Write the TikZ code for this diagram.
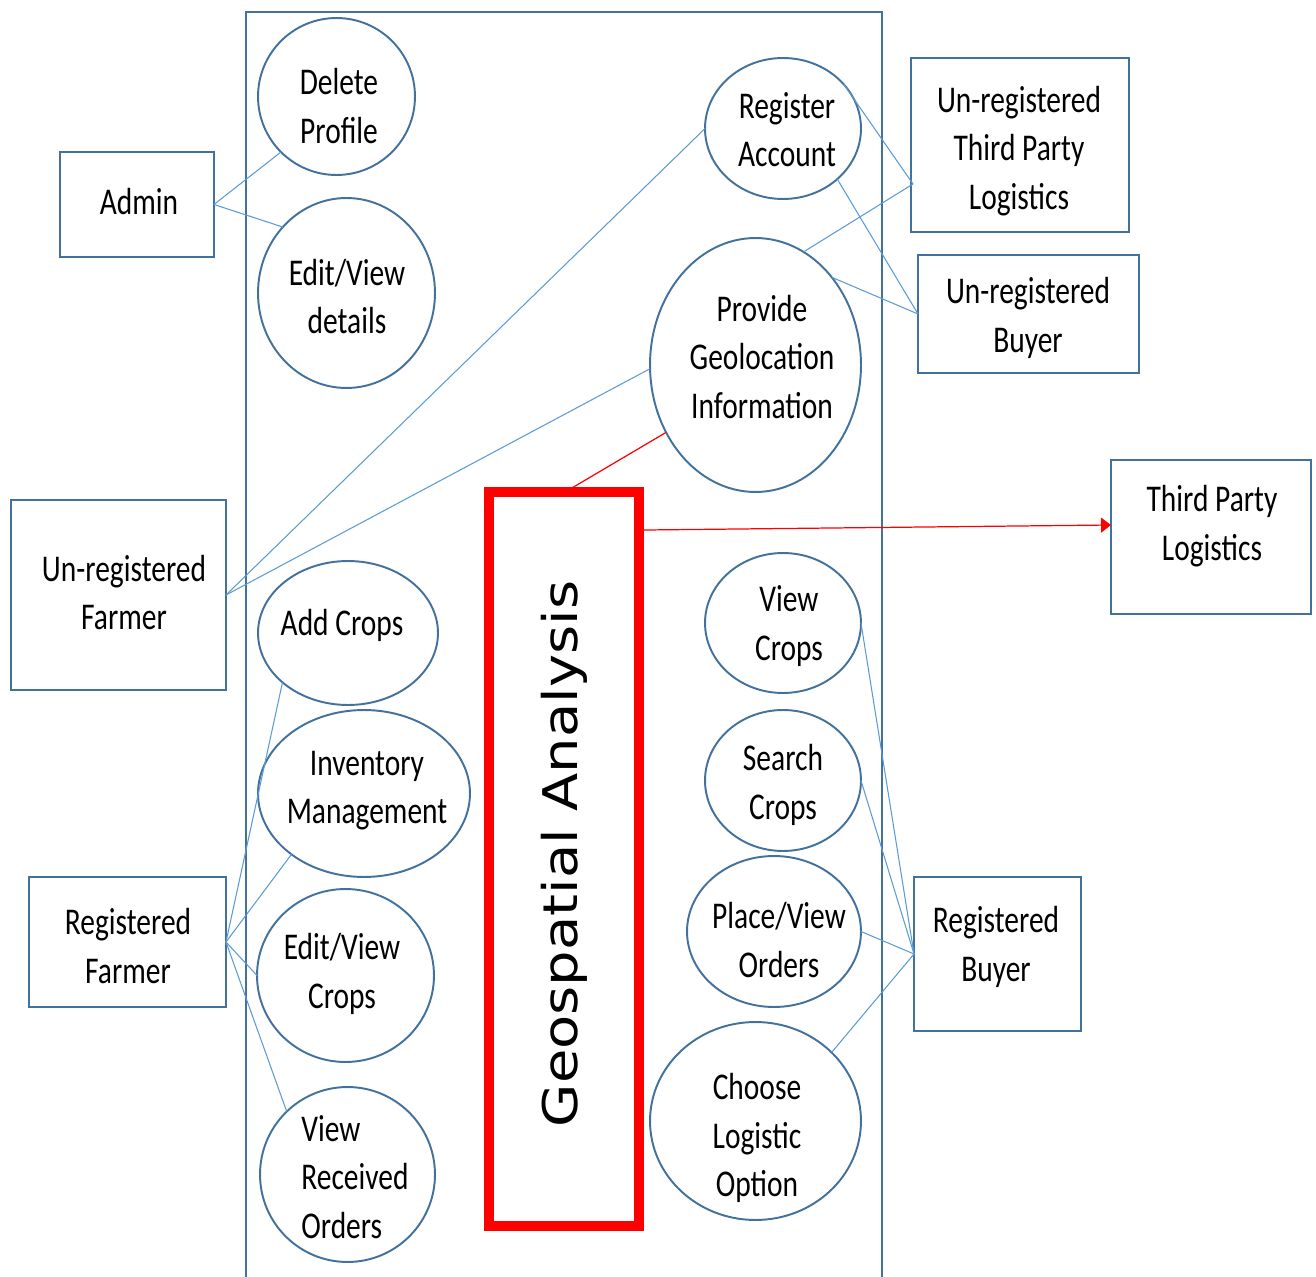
\documentclass[tikz,border=0pt]{standalone}
\usepackage{fontspec}
\usetikzlibrary{shapes.geometric,arrows.meta}
\newfontfamily\lblfont[FakeStretch=0.78]{Carlito}
\newfontfamily\geofont[FakeStretch=1.17]{DejaVu Sans}
\definecolor{edgeblue}{RGB}{65,113,156}
\definecolor{linkblue}{RGB}{91,155,213}
\definecolor{hotred}{RGB}{255,0,0}

\begin{document}
\begin{tikzpicture}[x=0.02cm,y=-0.02cm,
  usecase/.style={ellipse,draw=edgeblue,line width=1.1pt,fill=white,inner sep=0pt,outer sep=0pt},
  actor/.style={rectangle,draw=edgeblue,line width=1.1pt,fill=white,inner sep=0pt,outer sep=0pt},
  lbl/.style={font=\lblfont\fontsize{21.5}{27.5}\selectfont,align=center,inner sep=0pt,text=black},
  assoc/.style={draw=linkblue,line width=0.6pt},
  hotline/.style={draw=hotred,line width=0.7pt},
  frame/.style={draw=edgeblue,line width=1.1pt}]

\useasboundingbox (0,0) rectangle (1316,1277);

% system boundary (open at the bottom)
\draw[frame] (246,1277) |- (882,12) -- (882,1277);

% actors
\node[actor,minimum width=3.08cm,minimum height=2.10cm] (admin)     at (137,204.5) {};
\node[actor,minimum width=4.30cm,minimum height=3.80cm] (unfarmer)  at (118.5,595) {};
\node[actor,minimum width=3.94cm,minimum height=2.60cm] (regfarmer) at (127.5,942) {};
\node[actor,minimum width=4.36cm,minimum height=3.48cm] (untpl)     at (1020,145) {};
\node[actor,minimum width=4.42cm,minimum height=2.36cm] (unbuyer)   at (1028.5,314) {};
\node[actor,minimum width=4.00cm,minimum height=3.08cm] (tpl)       at (1211,537) {};
\node[actor,minimum width=3.34cm,minimum height=3.08cm] (regbuyer)  at (997.5,954) {};

% use cases
\node[usecase,minimum width=3.14cm,minimum height=3.14cm] (delprof)     at (336.5,96.5) {};
\node[usecase,minimum width=3.54cm,minimum height=3.80cm] (editdet)     at (346.5,293) {};
\node[usecase,minimum width=3.12cm,minimum height=2.82cm] (regacc)      at (783,128.5) {};
\node[usecase,minimum width=4.22cm,minimum height=5.08cm] (geoinfo)     at (755.5,365) {};
\node[usecase,minimum width=3.60cm,minimum height=2.88cm] (addcrops)    at (348,633) {};
\node[usecase,minimum width=4.24cm,minimum height=3.34cm] (invmgmt)     at (364,793.5) {};
\node[usecase,minimum width=3.54cm,minimum height=3.46cm] (editcrops)   at (345.5,975.5) {};
\node[usecase,minimum width=3.50cm,minimum height=3.50cm] (vieworders)  at (347.5,1174.5) {};
\node[usecase,minimum width=3.12cm,minimum height=2.80cm] (viewcrops)   at (783,623) {};
\node[usecase,minimum width=3.12cm,minimum height=2.82cm] (searchcrops) at (783,780.5) {};
\node[usecase,minimum width=3.48cm,minimum height=3.02cm] (placeorders) at (774,931.5) {};
\node[usecase,minimum width=4.22cm,minimum height=3.96cm] (chooselog)   at (755.5,1121) {};

% geospatial analysis block
\node[rectangle,draw=hotred,line width=5.6pt,inner sep=0pt,outer sep=0pt,
      minimum width=3.00cm,minimum height=14.68cm] (geo) at (564,859) {};
\node[font=\geofont\fontsize{27.2}{32}\selectfont,rotate=90,anchor=base,inner sep=0pt]
      (t-geo) at (577,854) {Geospatial Analysis};

% ports where several associations meet
\coordinate (untpl-port) at (913,184);
\coordinate (tpl-port)   at (1111,525);

% associations
\draw[assoc] (admin.east) -- (delprof.225);
\draw[assoc] (admin.east) -- (editdet.134);
\draw[assoc] (unfarmer.east) -- (regacc.180);
\draw[assoc] (unfarmer.east) -- (geoinfo.182);
\draw[assoc] (regacc.36) -- (untpl-port);
\draw[assoc] (geoinfo.67) -- (untpl-port);
\draw[assoc] (regacc.-43) -- (unbuyer.west);
\draw[assoc] (geoinfo.49) -- (unbuyer.west);
\draw[assoc] (regfarmer.east) -- (addcrops.217);
\draw[assoc] (regfarmer.east) -- (invmgmt.220);
\draw[assoc] (regfarmer.east) -- (editcrops.180);
\draw[assoc] (regfarmer.east) -- (vieworders.134);
\draw[assoc] (regbuyer.west) -- (viewcrops.0);
\draw[assoc] (regbuyer.west) -- (searchcrops.0);
\draw[assoc] (regbuyer.west) -- (placeorders.0);
\draw[assoc] (regbuyer.west) -- (chooselog.42);

% geospatial links
\draw[hotline] (geoinfo.217) -- ([xshift=0.02cm]geo.north);
\draw[hotline,-{Triangle[length=0.2cm,width=0.3cm]}] ([yshift=-0.76cm]geo.north east) -- (tpl-port);

% labels
\node[lbl] (t-admin)     at (139,202)   {Admin};
\node[lbl] (t-unfarmer)  at (124,592.5) {Un-registered\\Farmer};
\node[lbl] (t-regfarmer) at (128,946)   {Registered\\Farmer};
\node[lbl] (t-untpl)     at (1019,151)  {Un-registered\\Third Party\\Logistics};
\node[lbl] (t-unbuyer)   at (1028,318)  {Un-registered\\Buyer};
\node[lbl] (t-tpl)       at (1212,526)  {Third Party\\Logistics};
\node[lbl] (t-regbuyer)  at (996,947)   {Registered\\Buyer};

\node[lbl] (t-delprof)     at (339,106)    {Delete\\Profile};
\node[lbl] (t-editdet)     at (347,296.5)  {Edit/View\\details};
\node[lbl] (t-regacc)      at (787,129.5)  {Register\\Account};
\node[lbl] (t-geoinfo)     at (762,357)    {Provide\\Geolocation\\Information};
\node[lbl] (t-addcrops)    at (342,625)    {Add Crops};
\node[lbl] (t-invmgmt)     at (367,790.5)  {Inventory\\Management};
\node[lbl] (t-editcrops)   at (342,974)    {Edit/View\\Crops};
\node[lbl,align=left,anchor=west] (t-vieworders) at (301,1177) {View\\Received\\Orders};
\node[lbl] (t-viewcrops)   at (789,626)    {View\\Crops};
\node[lbl] (t-searchcrops) at (783,785)    {Search\\Crops};
\node[lbl] (t-placeorders) at (779,940)    {Place/View\\Orders};
\node[lbl] (t-chooselog)   at (757,1138) {Choose\\Logistic\\Option};

\end{tikzpicture}
\end{document}
